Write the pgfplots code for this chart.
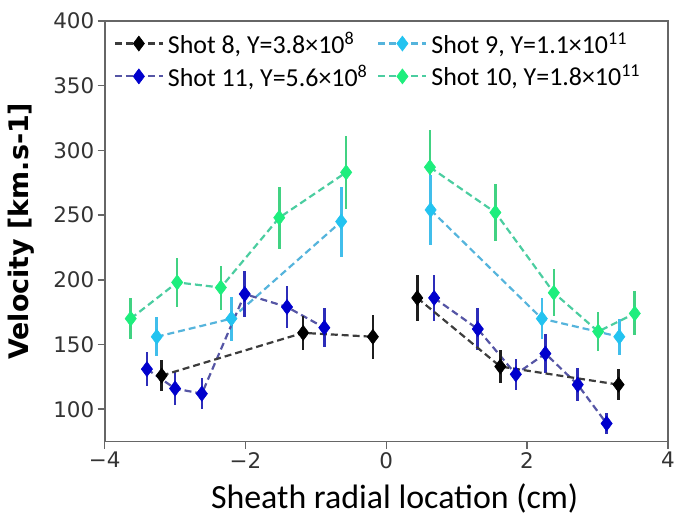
\documentclass[border=0pt]{standalone}
\usepackage{pgfplots}
\pgfplotsset{compat=1.18}
\usepackage{fontspec}
\setmainfont{Carlito}
\newfontfamily\dejavu{DejaVu Sans}
\definecolor{c8}{RGB}{0,0,0}
\definecolor{c8line}{RGB}{60,60,60}
\definecolor{c8bar}{RGB}{30,30,30}
\definecolor{c11}{RGB}{0,0,205}
\definecolor{c11line}{RGB}{85,85,165}
\definecolor{c11bar}{RGB}{45,45,185}
\definecolor{c9}{RGB}{35,195,240}
\definecolor{c9line}{RGB}{85,180,220}
\definecolor{c9bar}{RGB}{65,190,235}
\definecolor{c10}{RGB}{30,238,125}
\definecolor{c10line}{RGB}{75,205,160}
\definecolor{c10bar}{RGB}{65,210,130}
\pgfplotsset{
  ln/.style n args={3}{color=#2, line width=2.2pt, dash pattern=on 7pt off 4pt,
    mark=diamond*, mark size=7.5pt, mark options={solid, draw=#1, fill=#1, line width=0.6pt}},
  eb/.style={error bars/.cd, y dir=both, y explicit, error mark=none,
    error bar style={solid, line width=2.6pt, color=#1}},
}
\pgfplotstableread{
x y e
-3.19 126 12
-1.18 159 13
-0.19 156 17
}\sAl
\pgfplotstableread{
x y e
0.44 186 18
1.62 133 13
3.30 119 12
}\sAr
\pgfplotstableread{
x y e
-3.26 156 15
-2.20 170 17
-0.64 245 27
}\sBl
\pgfplotstableread{
x y e
0.63 254 27
2.21 170 16
3.31 156 14
}\sBr
\pgfplotstableread{
x y e
-3.40 131 13
-3.00 116 13
-2.62 112 12
-2.01 189 18
-1.41 179 16
-0.88 163 15
}\sCl
\pgfplotstableread{
x y e
0.68 186 18
1.30 162 16
1.84 127 12
2.26 143 15
2.72 119 13
3.13 89 8
}\sCr
\pgfplotstableread{
x y e
-3.63 170 16
-2.97 198 19
-2.35 194 17
-1.52 248 24
-0.57 283 28
}\sDl
\pgfplotstableread{
x y e
0.62 287 29
1.55 252 22
2.38 190 18
3.01 160 15
3.53 174 17
}\sDr
\begin{document}
\begin{tikzpicture}
\begin{axis}[
  scale only axis, width=565pt, height=422pt,
  xmin=-4, xmax=4, ymin=75, ymax=400,
  xtick={-4,-2,0,2,4}, xticklabels={−4,−2,0,2,4},
  ytick={100,150,200,250,300,350,400},
  yticklabels={100,150,200,250,300,350,400},
  tick align=outside, tick pos=left, major tick length=7pt,
  tick style={draw=black!60, line width=1.5pt},
  axis line style={draw=black!60, line width=1.8pt},
  ticklabel style={font=\dejavu\fontsize{21.5}{22}\selectfont, text=black!80},
  xlabel={Sheath radial location (cm)},
  xlabel style={font=\fontsize{34}{36}\selectfont, at={(axis description cs:0.515,-0.135)}, anchor=center},
  ylabel={Velocity [km.s-1]},
  ylabel style={font=\dejavu\bfseries\fontsize{27}{28}\selectfont, at={(axis description cs:-0.1487,0.5)}, anchor=center},
  legend columns=2,
  legend cell align=left,
  legend image code/.code={\draw[mark repeat=2,mark phase=2,#1] plot coordinates {(0pt,0pt) (24pt,0pt) (48pt,0pt)};},
  legend style={at={(axis description cs:0,1)}, anchor=north west, draw=none, fill=none,
    font=\fontsize{26}{28}\selectfont, row sep=6pt, inner xsep=9pt, inner ysep=9pt,
    /tikz/every odd column/.append style={column sep=2pt},
    /tikz/every even column/.append style={column sep=8pt}},
  clip=false,
]
\addlegendimage{ln={c8}{c8line}{}}
\addlegendentry{Shot 8, Y=3.8×10\textsuperscript{8}}
\addlegendimage{ln={c9}{c9line}{}}
\addlegendentry{Shot 9, Y=1.1×10\textsuperscript{11}}
\addlegendimage{ln={c11}{c11line}{}}
\addlegendentry{Shot 11, Y=5.6×10\textsuperscript{8}}
\addlegendimage{ln={c10}{c10line}{}}
\addlegendentry{Shot 10, Y=1.8×10\textsuperscript{11}}

\addplot[forget plot, ln={c10}{c10line}{}, eb=c10bar] table[x=x,y=y,y error=e] {\sDl};
\addplot[forget plot, ln={c10}{c10line}{}, eb=c10bar] table[x=x,y=y,y error=e] {\sDr};
\addplot[forget plot, ln={c9}{c9line}{}, eb=c9bar] table[x=x,y=y,y error=e] {\sBl};
\addplot[forget plot, ln={c9}{c9line}{}, eb=c9bar] table[x=x,y=y,y error=e] {\sBr};
\addplot[forget plot, ln={c11}{c11line}{}, eb=c11bar] table[x=x,y=y,y error=e] {\sCl};
\addplot[forget plot, ln={c11}{c11line}{}, eb=c11bar] table[x=x,y=y,y error=e] {\sCr};
\addplot[forget plot, ln={c8}{c8line}{}, eb=c8bar] table[x=x,y=y,y error=e] {\sAl};
\addplot[forget plot, ln={c8}{c8line}{}, eb=c8bar] table[x=x,y=y,y error=e] {\sAr};
\end{axis}
\path (current axis.south west) ++(-105pt,-77pt) rectangle ([xshift=8pt,yshift=21pt]current axis.north east);
\end{tikzpicture}
\end{document}
